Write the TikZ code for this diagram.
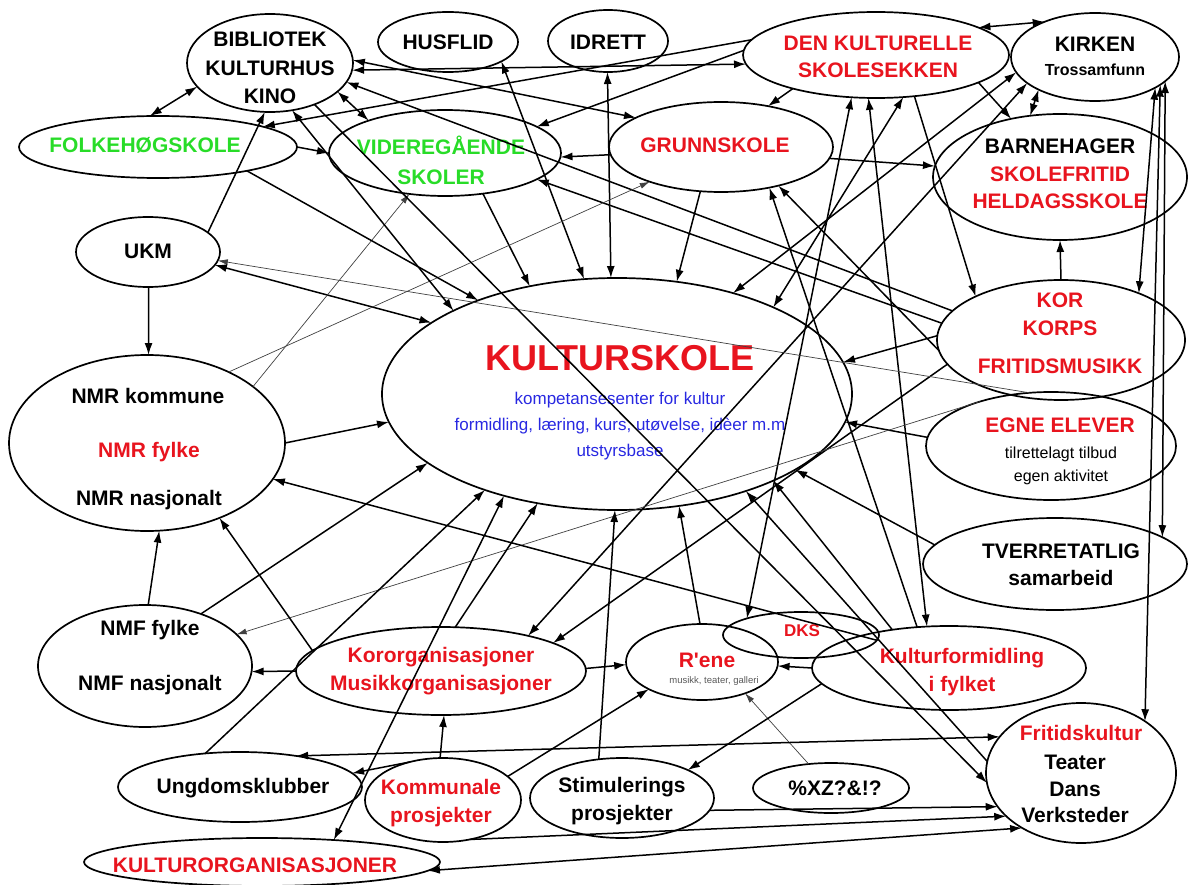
\documentclass[tikz,border=0pt]{standalone}
\usepackage{fontspec}
\setmainfont{Liberation Sans}
\usetikzlibrary{shapes.geometric,arrows.meta}
\definecolor{kred}{RGB}{232,20,30}
\definecolor{kgreen}{RGB}{40,220,40}
\definecolor{kblue}{RGB}{40,40,225}
\begin{document}
\begin{tikzpicture}[x=1pt,y=-1pt,
 ell/.style={draw, ellipse, line width=1.7pt, inner sep=0pt, outer sep=0pt},
 lbl/.style={font=\fontsize{21}{28}\selectfont\bfseries, align=center, inner sep=0pt},
 rlbl/.style={lbl, text=kred},
 arr/.style={line width=1.5pt, -{Latex[length=12pt,width=8pt]}},
 darr/.style={line width=1.5pt, {Latex[length=12pt,width=8pt]}-{Latex[length=12pt,width=8pt]}},
 thinarr/.style={line width=0.7pt, draw=black!75, -{Latex[length=10pt,width=6pt]}},
]
\useasboundingbox (0,0) rectangle (1188,885);

% ---------- ellipses ----------
\node[ell, minimum width=166pt, minimum height=98pt]  (bib)    at (270,63)  {};
\node[ell, minimum width=140pt, minimum height=60pt]  (hus)    at (448,42)  {};
\node[ell, minimum width=120pt, minimum height=62pt]  (idr)    at (608,41)  {};
\node[ell, minimum width=266pt, minimum height=86pt]  (dks)    at (876,55)  {};
\node[ell, minimum width=168pt, minimum height=88pt]  (kir)    at (1095,57) {};
\node[ell, minimum width=278pt, minimum height=62pt]  (folk)   at (158,147) {};
\node[ell, minimum width=232pt, minimum height=86pt]  (vid)    at (445,153) {};
\node[ell, minimum width=224pt, minimum height=90pt]  (grunn)  at (721,147) {};
\node[ell, minimum width=254pt, minimum height=126pt] (barn)   at (1060,177) {};
\node[ell, minimum width=144pt, minimum height=70pt]  (ukm)    at (148,252) {};
\node[ell, minimum width=470pt, minimum height=232pt] (kultur) at (617,394) {};
\node[ell, minimum width=248pt, minimum height=120pt] (kor)    at (1061,340) {};
\node[ell, minimum width=250pt, minimum height=108pt] (egne)   at (1051,446) {};
\node[ell, minimum width=276pt, minimum height=176pt] (nmr)    at (147,443) {};
\node[ell, minimum width=264pt, minimum height=92pt]  (tverr)  at (1055,564) {};
\node[ell, minimum width=214pt, minimum height=122pt] (nmf)    at (145,666) {};
\node[ell, minimum width=290pt, minimum height=88pt]  (koro)   at (441,671) {};
\node[ell, minimum width=152pt, minimum height=76pt]  (rene)   at (702,662) {};
\node[ell, minimum width=156pt, minimum height=46pt]  (dkss)   at (801,635) {};
\node[ell, minimum width=274pt, minimum height=84pt]  (kfo)    at (949,668) {};
\node[ell, minimum width=244pt, minimum height=70pt]  (ungd)   at (240,787) {};
\node[ell, minimum width=156pt, minimum height=84pt]  (komm)   at (443,800) {};
\node[ell, minimum width=184pt, minimum height=80pt]  (stim)   at (622,798) {};
\node[ell, minimum width=156pt, minimum height=50pt]  (pct)    at (831,788) {};
\node[ell, minimum width=190pt, minimum height=140pt] (frit)   at (1081,773) {};
\node[ell, minimum width=356pt, minimum height=48pt]  (kulo)   at (262,862) {};

% ---------- texts ----------
\node[lbl, font=\fontsize{21}{28.5}\selectfont\bfseries] (bibt) at (270,68) {BIBLIOTEK\\KULTURHUS\\KINO};
\node[lbl] (hust) at (448,42) {HUSFLID};
\node[lbl] (idrt) at (608,42) {IDRETT};
\node[rlbl, font=\fontsize{21}{27}\selectfont\bfseries] (dkst) at (878,57) {DEN KULTURELLE\\SKOLESEKKEN};
\node[lbl] (kirt1) at (1095,44) {KIRKEN};
\node[lbl, font=\fontsize{16}{20}\selectfont\bfseries] (kirt2) at (1095,70) {Trossamfunn};
\node[lbl, text=kgreen] (folkt) at (145,145) {FOLKEHØGSKOLE};
\node[lbl, text=kgreen, font=\fontsize{21}{30}\selectfont\bfseries] (vidt) at (441,160) {VIDEREGÅENDE\\SKOLER};
\node[rlbl] (grunnt) at (715,145) {GRUNNSKOLE};
\node[lbl] (barnt1) at (1060,146) {BARNEHAGER};
\node[rlbl, font=\fontsize{21}{27}\selectfont\bfseries] (barnt2) at (1060,187.5) {SKOLEFRITID\\HELDAGSSKOLE};
\node[lbl] (ukmt) at (148,251) {UKM};
\node[rlbl, font=\fontsize{36}{40}\selectfont\bfseries] (kulturt) at (620,358) {KULTURSKOLE};
\node[align=center, inner sep=0pt, text=kblue, font=\fontsize{17}{26}\selectfont] (kulturb) at (620,426)
  {kompetansesenter for kultur\\formidling, læring, kurs, utøvelse, idèer m.m\\utstyrsbase};
\node[rlbl] (kort) at (1060,333) {KOR\\KORPS\\[10pt]FRITIDSMUSIKK};
\node[rlbl] (egnet1) at (1060,425) {EGNE ELEVER};
\node[align=center, inner sep=0pt, font=\fontsize{16}{23}\selectfont] (egnet2) at (1061,466) {tilrettelagt tilbud\\egen aktivitet};
\node[lbl] (nmrt1) at (148,396) {NMR kommune};
\node[rlbl] (nmrt2) at (149,452) {NMR fylke};
\node[lbl] (nmrt3) at (149,500) {NMR nasjonalt};
\node[lbl, font=\fontsize{21}{27}\selectfont\bfseries] (tverrt) at (1061,565) {TVERRETATLIG\\samarbeid};
\node[lbl] (nmft1) at (150,630) {NMF fylke};
\node[lbl] (nmft2) at (150,685) {NMF nasjonalt};
\node[rlbl] (korot) at (441,671) {Kororganisasjoner\\Musikkorganisasjoner};
\node[rlbl] (renet) at (707,660) {R\textquotesingle ene};
\node[inner sep=0pt, text=black!65, font=\fontsize{9.5}{11}\selectfont] (renet2) at (714,681) {musikk, teater, galleri};
\node[rlbl, font=\fontsize{17}{20}\selectfont\bfseries] (dksst) at (802,631) {DKS};
\node[rlbl] (kfot) at (962,672) {Kulturformidling\\i fylket};
\node[lbl] (ungdt) at (243,788) {Ungdomsklubber};
\node[rlbl] (kommt) at (441,803) {Kommunale\\prosjekter};
\node[lbl] (stimt) at (622,801) {Stimulerings\\prosjekter};
\node[lbl] (pctt) at (835,788) {\%XZ?\&!?};
\node[rlbl] (fritt1) at (1081,733) {Fritidskultur};
\node[lbl, font=\fontsize{21}{26.5}\selectfont\bfseries] (fritt2) at (1075,789) {Teater\\Dans\\Verksteder};
\node[rlbl] (kulot) at (255,865) {KULTURORGANISASJONER};

% ---------- connectors ----------
\draw[darr] (folk.105) -- (bib.198);
\draw[darr] (dks.15) -- (kir.145);
\draw[darr] (bib.-5) -- (dks.184);
\draw[darr] (bib.2) -- (grunn.161);
\draw[arr] (kor.165) -- (bib.-14);
\draw[arr] (kor.172) -- (vid.-16);
\draw[darr] (bib.-23) -- (vid.157);
\draw[arr] (dks.173) -- (folk.11);
\draw[arr] (dks.178) -- (vid.16);
\draw[darr] (hus.-20) -- (kultur.106);
\draw[darr] (idr.-91) -- (kultur.93);
\draw[arr] (vid.-47) -- (kultur.129);
\draw[arr] (grunn.-115) -- (kultur.62);
\draw[arr] (grunn.184) -- (vid.-2);
\draw[arr] (dks.202) -- (grunn.41);
\draw[arr] (grunn.-6) -- (barn.175);
\draw[arr] (dks.-15) -- (barn.130);
\draw[darr] (kir.210) -- (barn.116);
\draw[darr] (kir.191) -- (kultur.41);
\draw[darr] (kir.201) -- (koro.22);
\draw[darr] (dks.-57) -- (kultur.29);
\draw[darr] (dks.-120) -- (dkss.163);
\draw[darr] (dks.-100) -- (kfo.118);
\draw[arr] (dks.-47) -- (kor.153);
\draw[arr] (kor.90) -- (barn.-90);
\draw[darr] (kir.-27) -- (kor.31);
\draw[darr] (kir.-23) -- (frit.39);
\draw[darr] (kir.-19) -- (tverr.14);
\draw[arr] (kor.178) -- (kultur.8);
\draw[arr] (kor.185) -- (grunn.-34);
\draw[arr] (kor.192) -- (koro.14);
\draw[arr] (egne.176) -- (kultur.-7);
\draw[arr] (tverr.171) -- (kultur.-23);
\draw[thinarr] (egne.112) -- (ukm.-7);
\draw[darr] (ukm.-11) -- (kultur.159);
\draw[thinarr] (nmr.28) -- (vid.-131);
\draw[thinarr] (nmr.41) -- (grunn.206);
\draw[thinarr] (egne.148) -- (nmf.19);
\draw[thinarr] (pct.133) -- (rene.-36);
\draw[arr] (ukm.-89) -- (nmr.89);
\draw[arr] (ukm.18) -- (bib.-96);
\draw[arr] (nmr.0) -- (kultur.187);
\draw[arr] (folk.-15) -- (kultur.146);
\draw[arr] (folk.0) -- (vid.180);
\draw[darr] (bib.-65) -- (kultur.153);
\draw[arr] (bib.-43) -- (frit.186);
\draw[arr] (frit.173) -- (kultur.-37);
\draw[arr] (kfo.146) -- (kultur.-29);
\draw[arr] (kfo.128) -- (grunn.-40);
\draw[arr] (nmf.87) -- (nmr.-82);
\draw[arr] (koro.171) -- (nmr.-46);
\draw[arr] (koro.180) -- (nmf.-3);
\draw[arr] (dkss.-4) -- (nmr.-16);
\draw[arr] (komm.94) -- (koro.-86);
\draw[darr] (ungd.29) -- (frit.156);
\draw[arr] (komm.131) -- (ungd.7);
\draw[arr] (komm.20) -- (rene.207);
\draw[arr] (koro.1) -- (rene.182);
\draw[arr] (kfo.180) -- (rene.-3);
\draw[arr] (kfo.187) -- (stim.23);
\draw[arr] (stim.-8) -- (frit.202);
\draw[arr] (komm.-56) -- (frit.210);
\draw[darr] (kulo.-3) -- (frit.223);
\draw[arr] (stim.121) -- (kultur.-91);
\draw[arr] (rene.93) -- (kultur.-61);
\draw[arr] (nmf.43) -- (kultur.200);
\draw[arr] (ungd.136) -- (kultur.216);
\draw[darr] (kultur.222) -- (kulo.17);
\draw[arr] (koro.72) -- (kultur.234);
\end{tikzpicture}
\end{document}
